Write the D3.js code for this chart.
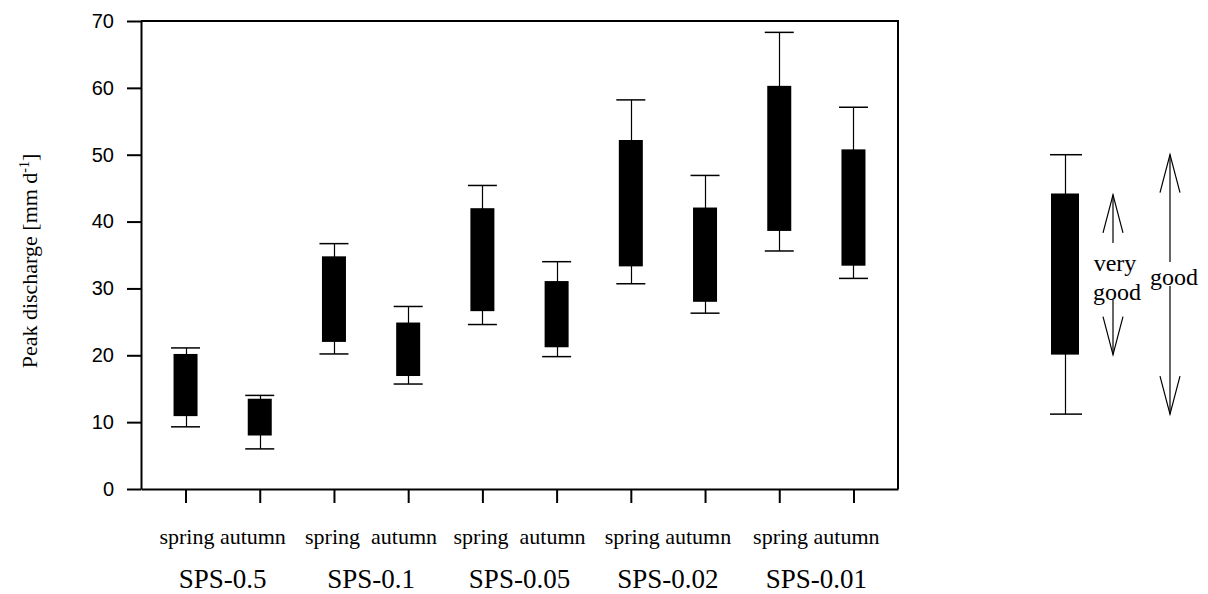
<!DOCTYPE html>
<html>
<head>
<meta charset="utf-8">
<script src="https://cdn.jsdelivr.net/npm/d3@7"></script>
<style>
  body { margin: 0; background: #fff; }
  .serif { font-family: "Liberation Serif", "Times New Roman", serif; fill: #000; }
  .yAxis text { font-family: "Liberation Sans", Arial, sans-serif; font-size: 20px; fill: #000; }
</style>
</head>
<body>
<div id="chart"></div>
<script>
// Groups and seasons along the x axis
var groups = ["SPS-0.5", "SPS-0.1", "SPS-0.05", "SPS-0.02", "SPS-0.01"];
var seasons = ["spring", "autumn"];
// season label text under each group (spacing as in the original)
var seasonLabels = ["spring autumn", "spring  autumn", "spring  autumn", "spring autumn", "spring autumn"];

// Box values, order: spring/autumn for each group
var whiskerLow  = [9.3, 6.0, 20.2, 15.7, 24.6, 19.8, 30.7, 26.3, 35.6, 31.5];
var boxLow      = [10.9, 8.0, 22.0, 16.9, 26.6, 21.2, 33.3, 28.0, 38.6, 33.4];
var boxHigh     = [20.2, 13.5, 34.8, 24.9, 42.0, 31.1, 52.2, 42.1, 60.3, 50.8];
var whiskerHigh = [21.1, 14.0, 36.7, 27.3, 45.4, 34.0, 58.2, 46.9, 68.3, 57.1];

// Y ticks
var yTicks = [0, 10, 20, 30, 40, 50, 60, 70];

// Legend box (low whisker, box low, box high, high whisker)
var legendBox = [11.2, 20.1, 44.2, 50.0];
var veryGoodRange = [20.1, 44.0];
var goodRange = [11.2, 50.0];

// Canvas
var width = 1208;
var height = 594;
var svg = d3.select("#chart").append("svg")
  .attr("width", width)
  .attr("height", height);

// Plot frame
var plotLeft = 141, plotRight = 898, plotTop = 21, plotBottom = 489;

// one key per box
var keys = [];
groups.forEach(function(g) {
  seasons.forEach(function(s) { keys.push(g + "|" + s); });
});

var xScale = d3.scalePoint().domain(keys).range([plotLeft, plotRight]).padding(0.6);
var yScale = d3.scaleLinear().domain([0, 70]).range([plotBottom, plotTop]);

// table built from the arrays
var rows = keys.map(function(k, i) {
  return { key: k, wl: whiskerLow[i], bl: boxLow[i], bh: boxHigh[i], wh: whiskerHigh[i] };
});

// Axes
var yAxis = d3.axisLeft(yScale).tickValues(yTicks).tickSize(14).tickSizeOuter(0).tickPadding(13);
var xAxis = d3.axisBottom(xScale).tickSize(14).tickSizeOuter(0).tickFormat("");

svg.append("g")
  .attr("class", "yAxis")
  .attr("transform", "translate(" + plotLeft + ",0)")
  .call(yAxis);
svg.append("g")
  .attr("class", "xAxis")
  .attr("transform", "translate(0," + plotBottom + ")")
  .call(xAxis);

svg.selectAll(".yAxis path, .yAxis line, .xAxis path, .xAxis line")
  .attr("stroke", "#000")
  .attr("stroke-width", 2);

// top and right frame lines
svg.append("line")
  .attr("x1", plotLeft).attr("x2", plotRight + 1)
  .attr("y1", yScale(70)).attr("y2", yScale(70))
  .attr("stroke", "#000").attr("stroke-width", 2);
svg.append("line")
  .attr("x1", plotRight).attr("x2", plotRight)
  .attr("y1", yScale(70)).attr("y2", yScale(0))
  .attr("stroke", "#000").attr("stroke-width", 2);

// Boxes
var boxW = 24, capW = 29;
var boxes = svg.selectAll("g.box").data(rows).enter().append("g").attr("class", "box");

boxes.append("line")
  .attr("x1", function(d) { return Math.round(xScale(d.key)) + 0.5; })
  .attr("x2", function(d) { return Math.round(xScale(d.key)) + 0.5; })
  .attr("y1", function(d) { return yScale(d.wl); })
  .attr("y2", function(d) { return yScale(d.wh); })
  .attr("stroke", "#000").attr("stroke-width", 1.2);

boxes.selectAll("line.cap")
  .data(function(d) { return [{ key: d.key, v: d.wl }, { key: d.key, v: d.wh }]; })
  .enter().append("line")
  .attr("class", "cap")
  .attr("x1", function(d) { return xScale(d.key) - capW / 2; })
  .attr("x2", function(d) { return xScale(d.key) + capW / 2; })
  .attr("y1", function(d) { return yScale(d.v); })
  .attr("y2", function(d) { return yScale(d.v); })
  .attr("stroke", "#000").attr("stroke-width", 1.5);

boxes.append("rect")
  .attr("x", function(d) { return xScale(d.key) - boxW / 2; })
  .attr("y", function(d) { return yScale(d.bh); })
  .attr("width", boxW)
  .attr("height", function(d) { return yScale(d.bl) - yScale(d.bh); })
  .attr("fill", "#000");

// Group labels
function groupCenter(g) {
  return (xScale(g + "|spring") + xScale(g + "|autumn")) / 2;
}
svg.selectAll("text.season").data(groups).enter().append("text")
  .attr("class", "serif season")
  .attr("x", function(g) { return groupCenter(g); })
  .attr("y", 544)
  .attr("text-anchor", "middle")
  .style("font-size", "22px")
  .style("white-space", "pre")
  .text(function(g, i) { return seasonLabels[i]; });

svg.selectAll("text.group").data(groups).enter().append("text")
  .attr("class", "serif group")
  .attr("x", function(g) { return groupCenter(g); })
  .attr("y", 588)
  .attr("text-anchor", "middle")
  .style("font-size", "27px")
  .text(function(g) { return g; });

// Y axis label
var yLab = svg.append("text")
  .attr("class", "serif")
  .attr("transform", "translate(37,261) rotate(-90)")
  .attr("text-anchor", "middle")
  .style("font-size", "22px");
yLab.append("tspan").text("Peak discharge [mm d");
yLab.append("tspan").attr("dy", -8).style("font-size", "14px").text("-1");
yLab.append("tspan").attr("dy", 8).text("]");

// Legend box
var lx = 1065;
var lg = svg.append("g").attr("class", "legend");
lg.append("line")
  .attr("x1", lx + 0.5).attr("x2", lx + 0.5)
  .attr("y1", yScale(legendBox[0])).attr("y2", yScale(legendBox[3]))
  .attr("stroke", "#000").attr("stroke-width", 1.2);
lg.selectAll("line.cap").data([legendBox[0], legendBox[3]]).enter().append("line")
  .attr("class", "cap")
  .attr("x1", lx - 15).attr("x2", lx + 17)
  .attr("y1", function(v) { return yScale(v); })
  .attr("y2", function(v) { return yScale(v); })
  .attr("stroke", "#000").attr("stroke-width", 1.5);
lg.append("rect")
  .attr("x", lx - 14)
  .attr("y", yScale(legendBox[2]))
  .attr("width", 28)
  .attr("height", yScale(legendBox[1]) - yScale(legendBox[2]))
  .attr("fill", "#000");

// Arrows: open V heads
function arrow(x, tipY, endY, dir) {
  lg.append("line")
    .attr("x1", x).attr("x2", x)
    .attr("y1", tipY).attr("y2", endY)
    .attr("stroke", "#000").attr("stroke-width", 1.2);
  lg.append("path")
    .attr("d", "M" + (x - 10) + "," + (tipY + dir * 38) + "L" + x + "," + tipY + "L" + (x + 10) + "," + (tipY + dir * 38))
    .attr("fill", "none")
    .attr("stroke", "#000").attr("stroke-width", 1.2);
}
var ax1 = 1113, ax2 = 1170;
arrow(ax1, yScale(veryGoodRange[1]), 243, 1);
arrow(ax1, yScale(veryGoodRange[0]), 300, -1);
arrow(ax2, yScale(goodRange[1]), 262, 1);
arrow(ax2, yScale(goodRange[0]), 286, -1);

lg.append("text").attr("class", "serif")
  .attr("x", 1115).attr("y", 271)
  .attr("text-anchor", "middle").style("font-size", "24px")
  .text("very");
lg.append("text").attr("class", "serif")
  .attr("x", 1117).attr("y", 300)
  .attr("text-anchor", "middle").style("font-size", "24px")
  .text("good");
lg.append("text").attr("class", "serif")
  .attr("x", 1174).attr("y", 285)
  .attr("text-anchor", "middle").style("font-size", "24px")
  .text("good");
</script>
</body>
</html>
